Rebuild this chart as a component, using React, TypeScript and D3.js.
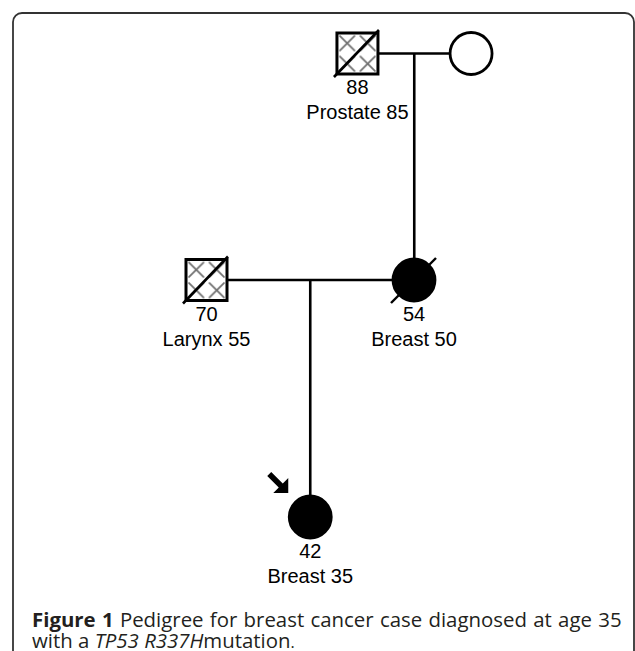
import React from "react";
import * as d3 from "d3";

// Pedigree members: generation index, layout column, labels, status
const ids = ["I-1", "I-2", "II-1", "II-2", "III-1"];
const sexes = ["M", "F", "M", "F", "F"];
const generations = [0, 0, 1, 1, 2];
const columns = [2.91, 5.1, 0, 4, 2];
const ages = ["88", "", "70", "54", "42"];
const diagnoses = ["Prostate 85", "", "Larynx 55", "Breast 50", "Breast 35"];
const status = ["hatched", "none", "hatched", "filled", "filled"];
const deceased = [true, false, true, true, false];
const probandId = "III-1";

// Matings and the child hanging from each
const couples = [
  ["I-1", "I-2"],
  ["II-1", "II-2"],
];
const offspring = [
  { couple: 0, child: "II-2" },
  { couple: 1, child: "III-1" },
];

const captionBold = "Figure 1";
const captionLine1 = " Pedigree for breast cancer case diagnosed at age 35";
const captionLine2 = ["with a ", "TP53 R337H", "mutation", "."];

const people = ids.map((id, i) => ({
  id,
  sex: sexes[i],
  gen: generations[i],
  col: columns[i],
  age: ages[i],
  dx: diagnoses[i],
  status: status[i],
  deceased: deceased[i],
}));

export default function App() {
  const width = 635;
  const height = 651;
  const size = 41; // square side
  const r = 21; // circle radius
  const ink = "#000";

  const x = d3.scaleLinear().domain([0, 4]).range([206.5, 414]);
  const y = d3.scaleOrdinal<number, number>().domain([0, 1, 2]).range([53.5, 280, 517]);

  const byId = new Map(people.map((p) => [p.id, p]));
  const half = (p) => (p.sex === "M" ? size / 2 : r);

  const arrow = (p) => {
    // arrow pointing down-right to the proband
    const tx = x(p.col) - 22;
    const ty = y(p.gen) - 24;
    const path = d3.path();
    path.moveTo(tx, ty);
    path.lineTo(tx - 15, ty);
    path.lineTo(tx - 9.5, ty - 5.5);
    path.lineTo(tx - 21, ty - 17);
    path.lineTo(tx - 17, ty - 21);
    path.lineTo(tx - 5.5, ty - 9.5);
    path.lineTo(tx, ty - 15);
    path.closePath();
    return path.toString();
  };

  return (
    <svg
      width={width}
      height={height}
      style={{ position: "absolute", left: 0, top: 0, background: "#fff" }}
    >
      <defs>
        <pattern id="hatch" patternUnits="objectBoundingBox" width={0.5} height={0.5}>
          <g stroke="#6f6f6f" strokeWidth={1.8} fill="none" strokeLinecap="round">
            <line x1={3} y1={3} x2={17.5} y2={17.5} />
            <line x1={17.5} y1={3} x2={3} y2={17.5} />
          </g>
        </pattern>
      </defs>

      {/* frame */}
      <rect
        x={13}
        y={13}
        width={621}
        height={700}
        rx={9}
        fill="none"
        stroke="#333"
        strokeWidth={1.8}
      />

      {/* mating lines */}
      {couples.map(([a, b], i) => {
        const pa = byId.get(a);
        const pb = byId.get(b);
        return (
          <line
            key={"m" + i}
            x1={x(pa.col)}
            x2={x(pb.col)}
            y1={y(pa.gen)}
            y2={y(pb.gen)}
            stroke={ink}
            strokeWidth={2.6}
          />
        );
      })}

      {/* descent lines */}
      {offspring.map((o, i) => {
        const [a, b] = couples[o.couple].map((id) => byId.get(id));
        const c = byId.get(o.child);
        const mx = (x(a.col) + x(b.col)) / 2;
        return (
          <line
            key={"d" + i}
            x1={mx}
            x2={mx}
            y1={y(a.gen)}
            y2={y(c.gen)}
            stroke={ink}
            strokeWidth={2.6}
          />
        );
      })}

      {/* individuals */}
      {people.map((p) => {
        const cx = x(p.col);
        const cy = y(p.gen);
        const h = half(p);
        const fill = p.status === "filled" ? ink : "#fff";
        return (
          <g key={p.id}>
            {p.sex === "M" ? (
              <>
                <rect x={cx - h} y={cy - h} width={size} height={size} fill="#fff" />
                {p.status === "hatched" && (
                  <rect x={cx - h} y={cy - h} width={size} height={size} fill="url(#hatch)" />
                )}
                <rect
                  x={cx - h}
                  y={cy - h}
                  width={size}
                  height={size}
                  fill={p.status === "filled" ? ink : "none"}
                  stroke={ink}
                  strokeWidth={3}
                />
              </>
            ) : (
              <circle cx={cx} cy={cy} r={r} fill={fill} stroke={ink} strokeWidth={2.8} />
            )}
            {p.deceased &&
              (p.sex === "M" ? (
                <line
                  x1={cx - h - 3}
                  y1={cy + h + 3}
                  x2={cx + h + 1}
                  y2={cy - h - 3}
                  stroke={ink}
                  strokeWidth={2.6}
                />
              ) : (
                <line
                  x1={cx - 23}
                  y1={cy + 23}
                  x2={cx + 22}
                  y2={cy - 22}
                  stroke={ink}
                  strokeWidth={2.4}
                />
              ))}
            {p.age && (
              <text
                x={cx}
                y={cy + h + 20}
                textAnchor="middle"
                fontFamily="'Liberation Sans', Arial, sans-serif"
                fontSize={20}
              >
                {p.age}
              </text>
            )}
            {p.dx && (
              <text
                x={cx}
                y={cy + h + 45}
                textAnchor="middle"
                fontFamily="'Liberation Sans', Arial, sans-serif"
                fontSize={20}
              >
                {p.dx}
              </text>
            )}
            {p.id === probandId && <path d={arrow(p)} fill={ink} />}
          </g>
        );
      })}

      {/* caption */}
      <g fontFamily="'Open Sans', 'Noto Sans', sans-serif" fontSize={20.4} fill="#231f20">
        <text x={32} y={627} wordSpacing={1}>
          <tspan fontWeight="bold">{captionBold}</tspan>
          <tspan>{captionLine1}</tspan>
        </text>
        <text x={32} y={648}>
          <tspan>{captionLine2[0]}</tspan>
          <tspan fontStyle="italic">{captionLine2[1]}</tspan>
          <tspan>{captionLine2[2]}</tspan>
          <tspan fontSize={16}>{captionLine2[3]}</tspan>
        </text>
      </g>
    </svg>
  );
}
